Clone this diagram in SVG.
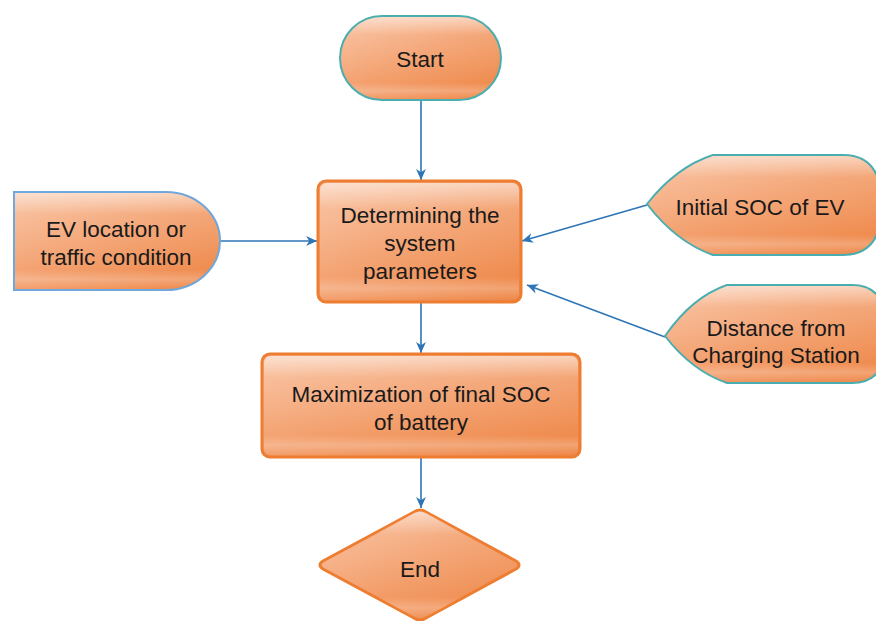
<svg xmlns="http://www.w3.org/2000/svg" xmlns:xlink="http://www.w3.org/1999/xlink" width="876" height="621" viewBox="0 0 876 621">
<defs>
<linearGradient id="fillG" x1="0" y1="0" x2="1" y2="1">
<stop offset="0" stop-color="#f8bc98"/>
<stop offset="0.5" stop-color="#f39e6b"/>
<stop offset="1" stop-color="#ee8646"/>
</linearGradient>
<linearGradient id="gloss" x1="0" y1="0" x2="0" y2="1">
<stop offset="0" stop-color="#ffffff" stop-opacity="0.55"/>
<stop offset="0.22" stop-color="#ffffff" stop-opacity="0.12"/>
<stop offset="0.8" stop-color="#ffffff" stop-opacity="0"/>
<stop offset="0.9" stop-color="#ffffff" stop-opacity="0.22"/>
<stop offset="1" stop-color="#ffffff" stop-opacity="0"/>
</linearGradient>
<marker id="arr" viewBox="0 0 10 10" refX="10" refY="5" markerWidth="12" markerHeight="11" markerUnits="userSpaceOnUse" orient="auto">
<path d="M0,0.5 L10,5 L0,9.5 L3,5 Z" fill="#2e75b6"/>
</marker>
<style>
.base{fill:url(#fillG);}
.gl{fill:url(#gloss);stroke:none;}
.oS{stroke:#ed7d31;stroke-width:3;stroke-linejoin:round;}
.tS{stroke:#4aaeb0;stroke-width:2;}
.bS{stroke:#6fa8dc;stroke-width:2;}
.lbl{font-family:"Liberation Sans",Arial,sans-serif;font-size:22.5px;fill:#1a1a1a;text-anchor:middle;}
.con{stroke:#2e75b6;stroke-width:1.6;fill:none;marker-end:url(#arr);}
</style>
</defs>
<rect width="876" height="621" fill="#ffffff"/>

<g id="connectors">
<line class="con" x1="421" y1="101" x2="421" y2="180"/>
<line class="con" x1="220" y1="241" x2="317" y2="241"/>
<line class="con" x1="647" y1="205" x2="522" y2="241"/>
<line class="con" x1="665" y1="337" x2="527" y2="285"/>
<line class="con" x1="421" y1="303" x2="421" y2="353"/>
<line class="con" x1="421" y1="458" x2="421" y2="508"/>
</g>

<g id="start">
<rect class="base tS" x="340" y="16" width="161" height="84" rx="42"/>
<rect class="gl" x="341" y="17" width="159" height="82" rx="41"/>
<text class="lbl" x="420" y="67">Start</text>
</g>

<g id="determine">
<rect class="base oS" x="318" y="181" width="203" height="121" rx="8"/>
<rect class="gl" x="320" y="183" width="199" height="117" rx="7"/>
<text class="lbl" x="420" y="223">Determining the</text>
<text class="lbl" x="420" y="251">system</text>
<text class="lbl" x="420" y="279">parameters</text>
</g>

<g id="ev-location">
<path class="base bS" d="M14,192 H166 A54,49 0 0 1 166,290 H14 Z"/>
<path class="gl" d="M15,193 H166 A53,48 0 0 1 166,289 H15 Z"/>
<text class="lbl" x="116" y="237">EV location or</text>
<text class="lbl" x="116" y="265">traffic condition</text>
</g>

<g id="initial-soc">
<path class="base tS" d="M713,155 H843 Q882,155 882,205 Q882,255 843,255 H713 Q676,242 647,204 Q676,167 713,155 Z"/>
<path class="gl" d="M713,156 H843 Q881,156 881,205 Q881,254 843,254 H713 Q677,241 648,204 Q677,168 713,156 Z"/>
<text class="lbl" x="760" y="215">Initial SOC of EV</text>
</g>

<g id="distance">
<path class="base tS" d="M727,285 H852 Q888,285 888,334 Q888,383 852,383 H727 Q692,371 665,336 Q692,297 727,285 Z"/>
<path class="gl" d="M727,286 H852 Q887,286 887,334 Q887,382 852,382 H727 Q693,370 666,336 Q693,298 727,286 Z"/>
<text class="lbl" x="776" y="336">Distance from</text>
<text class="lbl" x="776" y="363">Charging Station</text>
</g>

<g id="maximization">
<rect class="base oS" x="262" y="354" width="318" height="103" rx="8"/>
<rect class="gl" x="264" y="356" width="314" height="99" rx="7"/>
<text class="lbl" x="421" y="402">Maximization of final SOC</text>
<text class="lbl" x="421" y="430">of battery</text>
</g>

<g id="end">
<path class="base oS" d="M414,512 Q420,508 426,512 L516,561 Q522,565 516,569 L426,618 Q420,622 414,618 L323,569 Q317,565 323,561 Z"/>
<path class="gl" d="M414,513 Q420,510 426,513 L515,562 Q520,565 515,568 L426,617 Q420,620 414,617 L324,568 Q319,565 324,562 Z"/>
<text class="lbl" x="420" y="577">End</text>
</g>
</svg>
